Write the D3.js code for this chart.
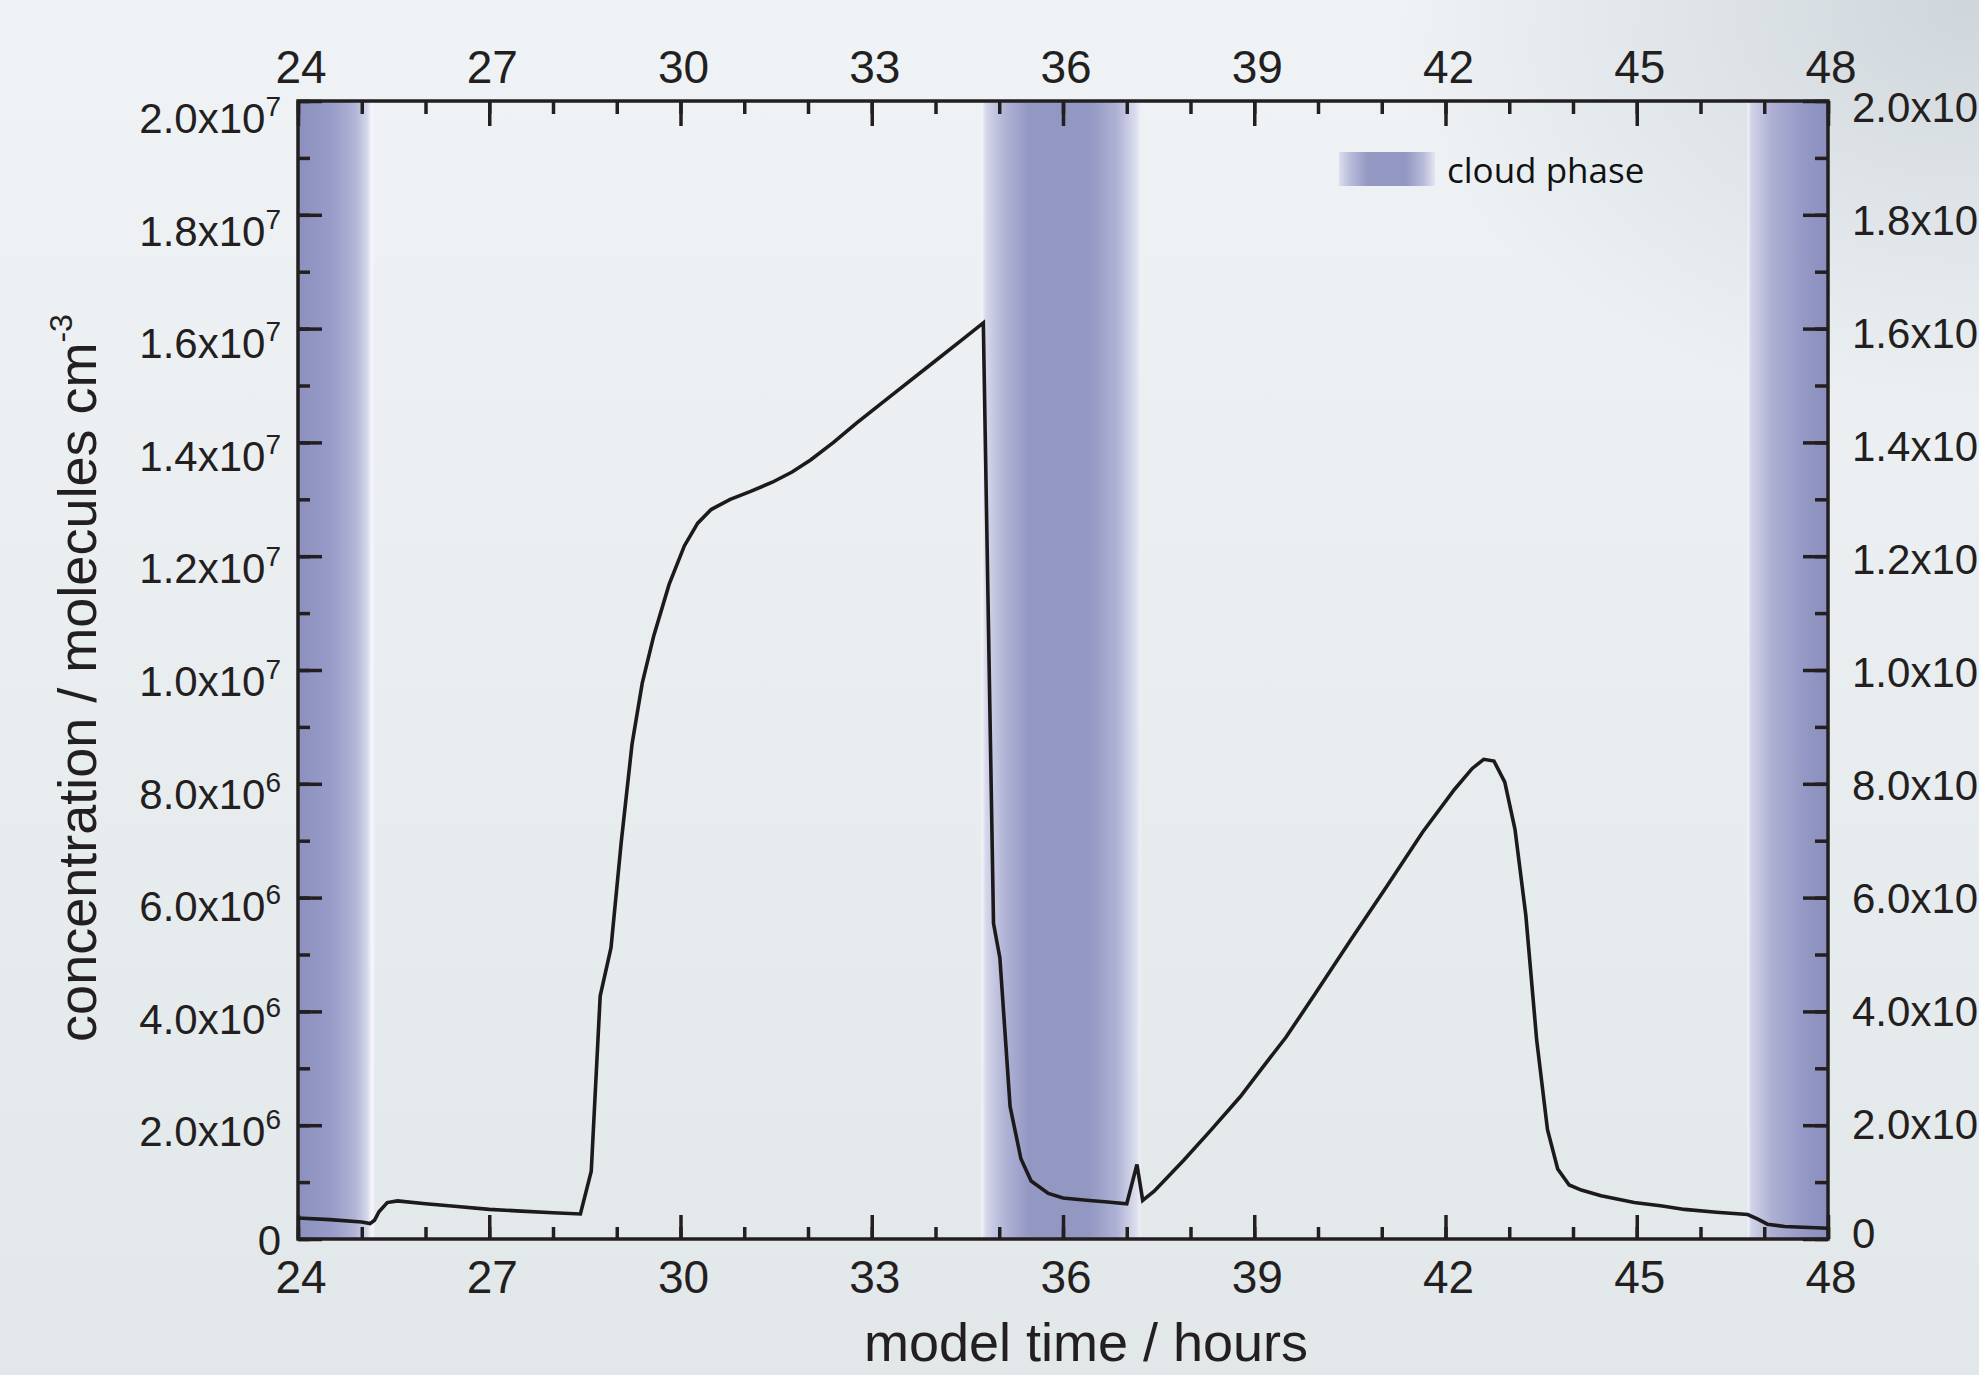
<!DOCTYPE html>
<html lang="en">
<head>
  <meta charset="UTF-8" />
  <title>Cloud phase concentration</title>
  <script src="https://d3js.org/d3.v7.min.js"></script>
  <style>
    body { margin: 0; overflow: hidden; }
    text { font-family: "Liberation Sans", Arial, sans-serif; fill: #231f20; }
  </style>
</head>
<body>
  <div id="chart"></div>

  <script>
    // model time (hours) and concentration (units of 1e6 molecules cm^-3)
    const hours = [
      24.0, 24.5, 25.0, 25.13, 25.2, 25.27, 25.4, 25.56, 26.0, 26.5,
      27.0, 27.5, 28.0, 28.43, 28.6, 28.74, 28.91, 29.07, 29.24, 29.4,
      29.58, 29.82, 30.06, 30.27, 30.48, 30.78, 31.1, 31.44, 31.75, 32.04,
      32.4, 32.76, 33.36, 33.96, 34.4, 34.75, 34.91, 35.01, 35.17, 35.34,
      35.5, 35.77, 36.0, 36.37, 36.7, 37.0, 37.16, 37.25, 37.43, 37.89,
      38.31, 38.78, 39.12, 39.5, 39.95, 40.51, 41.08, 41.64, 42.14, 42.42,
      42.6, 42.76, 42.93, 43.09, 43.26, 43.43, 43.6, 43.76, 43.94, 44.13,
      44.44, 44.96, 45.4, 45.75, 46.25, 46.74, 46.9, 47.05, 47.32, 48.0
    ];
    const concMillions = [
      0.37, 0.34, 0.30, 0.27, 0.33, 0.48, 0.64, 0.67, 0.62, 0.57,
      0.52, 0.49, 0.46, 0.44, 1.19, 4.27, 5.12, 6.97, 8.70, 9.77,
      10.6, 11.5, 12.18, 12.58, 12.82, 13.0, 13.14, 13.3, 13.48, 13.69,
      14.0, 14.34, 14.87, 15.4, 15.79, 16.1, 5.55, 4.94, 2.33, 1.41,
      1.02, 0.80, 0.72, 0.68, 0.65, 0.62, 1.31, 0.68, 0.84, 1.38,
      1.9, 2.5, 3.0, 3.55, 4.3, 5.25, 6.2, 7.15, 7.9, 8.27,
      8.43, 8.4, 8.03, 7.2, 5.69, 3.5, 1.92, 1.23, 0.95, 0.86,
      0.76, 0.64, 0.58, 0.52, 0.47, 0.43, 0.35, 0.26, 0.22, 0.19
    ];

    // cloud phases (hours)
    const cloudStart = [24, 34.72, 46.74];
    const cloudEnd = [25.2, 37.22, 48];
    const cloudShape = ["fadeRight", "fadeBoth", "fadeLeft"];

    const xTicks = [24, 27, 30, 33, 36, 39, 42, 45, 48];
    const yTicks = [0, 2, 4, 6, 8, 10, 12, 14, 16, 18, 20];
    const yMantissa = ["0", "2.0", "4.0", "6.0", "8.0", "1.0", "1.2", "1.4", "1.6", "1.8", "2.0"];
    const yExponent = [null, 6, 6, 6, 6, 7, 7, 7, 7, 7, 7];

    const W = 1979, H = 1375;
    const pLeft = 298, pRight = 1828, pTop = 101, pBottom = 1239;

    const svg = d3.select("#chart")
      .append("svg")
      .attr("width", W)
      .attr("height", H);

    const defs = svg.append("defs");

    // page background
    const bg = defs.append("linearGradient").attr("id", "bg")
      .attr("x1", 0).attr("y1", 0).attr("x2", 0).attr("y2", 1);
    bg.append("stop").attr("offset", 0).attr("stop-color", "#eff3f6");
    bg.append("stop").attr("offset", 1).attr("stop-color", "#e2e7ea");

    const corner = defs.append("radialGradient").attr("id", "corner")
      .attr("cx", 1).attr("cy", 0).attr("r", 0.3);
    corner.append("stop").attr("offset", 0).attr("stop-color", "#c9d1d6").attr("stop-opacity", 0.85);
    corner.append("stop").attr("offset", 1).attr("stop-color", "#c9d1d6").attr("stop-opacity", 0);

    svg.append("rect").attr("width", W).attr("height", H).attr("fill", "url(#bg)");
    svg.append("rect").attr("width", W).attr("height", H).attr("fill", "url(#corner)");

    // band gradients
    const gradStops = {
      fadeRight: [[0, "#8c90be"], [0.45, "#989cc7"], [0.75, "#b2b5d6"], [0.9, "#d3d5e9"], [0.96, "#f4f5fa"], [1, "#eef1f6"]],
      fadeBoth: [[0, "#f6f7fb"], [0.03, "#d4d6ea"], [0.15, "#b0b3d5"], [0.3, "#9398c3"], [0.68, "#9398c3"], [0.85, "#afb2d4"], [0.97, "#dcdeee"], [1, "#eef1f6"]],
      fadeLeft: [[0, "#f7f8fb"], [0.04, "#d2d4e9"], [0.3, "#adb0d3"], [0.7, "#9498c4"], [1, "#8b8fbe"]],
      legend: [[0, "#dcdeee"], [0.12, "#b8bbd9"], [0.3, "#9398c3"], [0.7, "#9398c3"], [0.88, "#b8bbd9"], [1, "#e4e6f2"]]
    };
    Object.keys(gradStops).forEach(k => {
      const g = defs.append("linearGradient").attr("id", "g-" + k)
        .attr("x1", 0).attr("y1", 0).attr("x2", 1).attr("y2", 0);
      gradStops[k].forEach(s => {
        g.append("stop").attr("offset", s[0]).attr("stop-color", s[1]);
      });
    });

    const x = d3.scaleLinear().domain([24, 48]).range([pLeft, pRight]);
    const y = d3.scaleLinear().domain([0, 20]).range([pBottom, pTop]);

    // cloud phase bands
    svg.selectAll("rect.cloud")
      .data(cloudStart)
      .enter()
      .append("rect")
      .attr("class", "cloud")
      .attr("x", d => x(d))
      .attr("y", pTop)
      .attr("width", (d, i) => x(cloudEnd[i]) - x(d))
      .attr("height", pBottom - pTop)
      .attr("fill", (d, i) => `url(#g-${cloudShape[i]})`);

    // legend
    svg.append("rect")
      .attr("x", 1339).attr("y", 152)
      .attr("width", 96).attr("height", 34)
      .attr("fill", "url(#g-legend)");
    svg.append("text")
      .attr("x", 1447).attr("y", 183)
      .style("font-family", "'Open Sans', sans-serif")
      .style("font-size", "35px")
      .style("fill", "#111")
      .text("cloud phase");

    // ticks (pointing inward on all four sides)
    const tickStyle = g => {
      g.select(".domain").remove();
      g.selectAll("line").attr("stroke", "#231f20").attr("stroke-width", 3.5);
      g.selectAll("text").remove();
    };
    const minorX = d3.range(24, 49, 1);
    const minorY = d3.range(0, 21, 1);

    svg.append("g").attr("transform", `translate(0,${pBottom})`)
      .call(d3.axisBottom(x).tickValues(minorX).tickSize(-12)).call(tickStyle);
    svg.append("g").attr("transform", `translate(0,${pBottom})`)
      .call(d3.axisBottom(x).tickValues(xTicks).tickSize(-24)).call(tickStyle);
    svg.append("g").attr("transform", `translate(0,${pTop})`)
      .call(d3.axisTop(x).tickValues(minorX).tickSize(-13)).call(tickStyle);
    svg.append("g").attr("transform", `translate(0,${pTop})`)
      .call(d3.axisTop(x).tickValues(xTicks).tickSize(-25)).call(tickStyle);
    svg.append("g").attr("transform", `translate(${pLeft},0)`)
      .call(d3.axisLeft(y).tickValues(minorY).tickSize(-12)).call(tickStyle);
    svg.append("g").attr("transform", `translate(${pLeft},0)`)
      .call(d3.axisLeft(y).tickValues(yTicks).tickSize(-24)).call(tickStyle);
    svg.append("g").attr("transform", `translate(${pRight},0)`)
      .call(d3.axisRight(y).tickValues(minorY).tickSize(-13)).call(tickStyle);
    svg.append("g").attr("transform", `translate(${pRight},0)`)
      .call(d3.axisRight(y).tickValues(yTicks).tickSize(-25)).call(tickStyle);

    // frame
    svg.append("rect")
      .attr("x", pLeft).attr("y", pTop)
      .attr("width", pRight - pLeft).attr("height", pBottom - pTop)
      .attr("fill", "none")
      .attr("stroke", "#231f20")
      .attr("stroke-width", 3.5);

    // data line
    const pts = hours.map((h, i) => [h, concMillions[i]]);
    svg.append("path")
      .datum(pts)
      .attr("fill", "none")
      .attr("stroke", "#1c1a1b")
      .attr("stroke-width", 3.6)
      .attr("stroke-linejoin", "miter")
      .attr("d", d3.line().x(d => x(d[0])).y(d => y(d[1])));

    // x tick labels, top and bottom
    [[83, "top"], [1293, "bottom"]].forEach(([base, cls]) => {
      svg.selectAll("text.x-" + cls)
        .data(xTicks)
        .enter()
        .append("text")
        .attr("class", "x-" + cls)
        .attr("x", d => x(d) + 3)
        .attr("y", base)
        .attr("text-anchor", "middle")
        .style("font-size", "46px")
        .text(d => d);
    });

    // y tick labels with superscript exponents
    function yLabel(sel, anchor, xpos, offset) {
      sel.attr("x", xpos)
        .attr("y", (d, i) => y(d) + offset(d, i))
        .attr("text-anchor", anchor)
        .style("font-size", "42px")
        .each(function (d, i) {
          const t = d3.select(this);
          t.append("tspan").text(yMantissa[i]);
          if (yExponent[i] !== null) {
            t.append("tspan").text("x10");
            t.append("tspan")
              .attr("dy", -17)
              .style("font-size", "28px")
              .text(yExponent[i]);
          }
        });
    }

    svg.selectAll("text.y-left")
      .data(yTicks)
      .enter()
      .append("text")
      .attr("class", "y-left")
      .call(yLabel, "end", 281, (d, i) => i === 0 ? 16 : 20 + 12 * d / 20);

    // right labels run off the page edge, as in the original figure
    svg.selectAll("text.y-right")
      .data(yTicks)
      .enter()
      .append("text")
      .attr("class", "y-right")
      .call(yLabel, "start", 1852, (d, i) => i === 0 ? 9 : 13 + 8 * d / 20);

    // axis titles
    svg.append("text")
      .attr("x", 1086)
      .attr("y", 1361)
      .attr("text-anchor", "middle")
      .style("font-size", "54px")
      .text("model time / hours");

    const yTitle = svg.append("text")
      .attr("transform", "rotate(-90)")
      .attr("x", -678)
      .attr("y", 96)
      .attr("text-anchor", "middle")
      .style("font-size", "54px");
    yTitle.append("tspan").text("concentration / molecules cm");
    yTitle.append("tspan")
      .attr("dy", -24)
      .style("font-size", "32px")
      .text("-3");
  </script>
</body>
</html>
